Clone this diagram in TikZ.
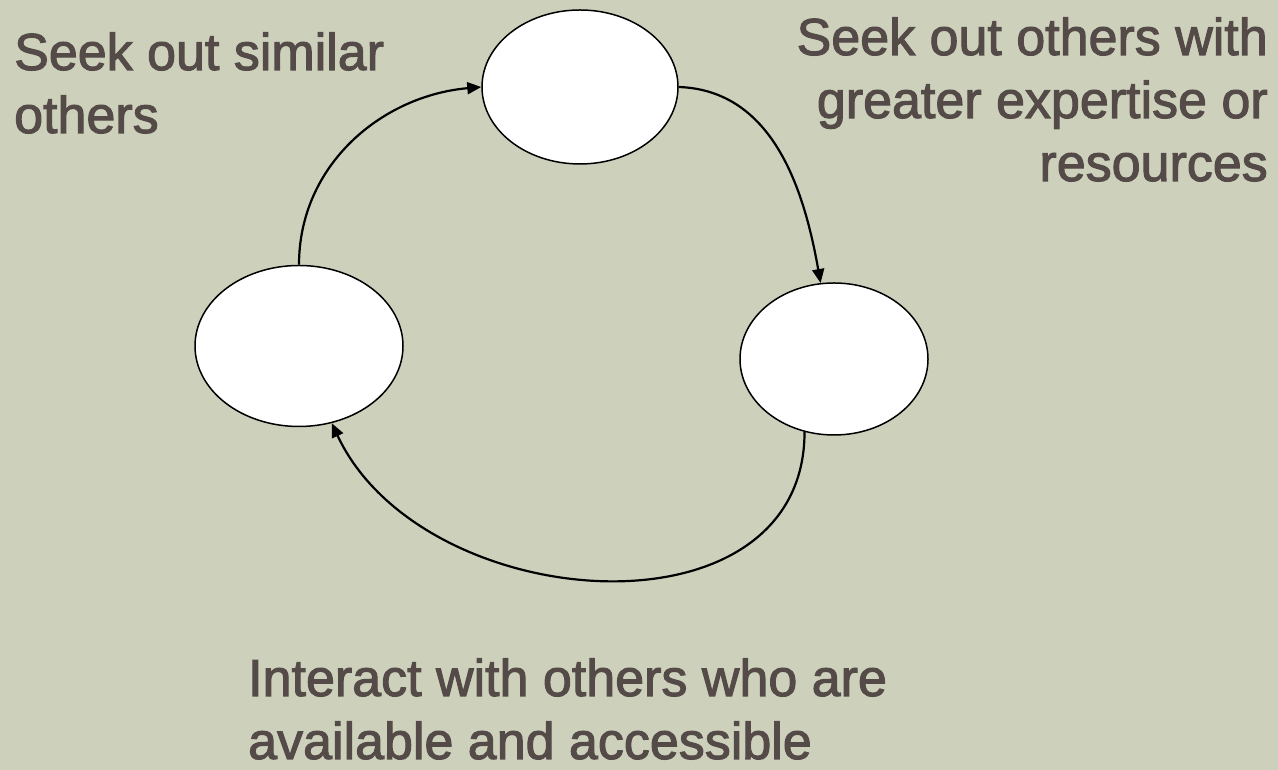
\documentclass[tikz,border=0pt]{standalone}
\usepackage{fontspec}
\setmainfont{Liberation Sans}
\usetikzlibrary{arrows.meta,shapes.geometric}
\definecolor{sage}{RGB}{205,209,187}
\definecolor{inkbrown}{RGB}{84,74,72}
\tikzset{>={Triangle[width=12pt,length=14pt]}}

\begin{document}
\begin{tikzpicture}[x=1pt,y=1pt]

  \fill[sage] (0,0) rectangle (1278,770);
  \useasboundingbox (0,0) rectangle (1278,770);

  \tikzset{
    bubble/.style={ellipse, draw, fill=white, line width=1.5pt, inner sep=0pt},
    caption/.style={text=inkbrown, inner sep=0pt,
      font=\fontsize{52}{63}\selectfont\addfontfeature{FakeBold=2}},
    flow/.style={->, line width=2.2pt}
  };

  % the three bubbles
  \node[bubble, minimum width=196pt, minimum height=154pt] (top) at (580,683) {};
  \node[bubble, minimum width=208pt, minimum height=161pt] (left) at (299,424) {};
  \node[bubble, minimum width=188pt, minimum height=152pt] (right) at (834,411) {};

  % captions (base = last line)
  \node[caption, anchor=base west, align=left] (similar) at (14,637)
    {Seek out similar\\others};
  \node[caption, anchor=base east, align=right] (expert) at (1268,589)
    {Seek out others with\\greater expertise or\\resources};
  \node[caption, anchor=base west, align=left] (access) at (248,11)
    {Interact with others who are\\available and accessible};

  \draw[flow] (left.north) to[out=90, in=185] (top.west); % left->top
  \draw[flow] (top.east) to[out=-2, in=100] (right.100); % top->right
  \draw[flow] (right.-112) to[out=-90, in=-65, looseness=1.15] (left.-67); % right->left

\end{tikzpicture}
\end{document}
